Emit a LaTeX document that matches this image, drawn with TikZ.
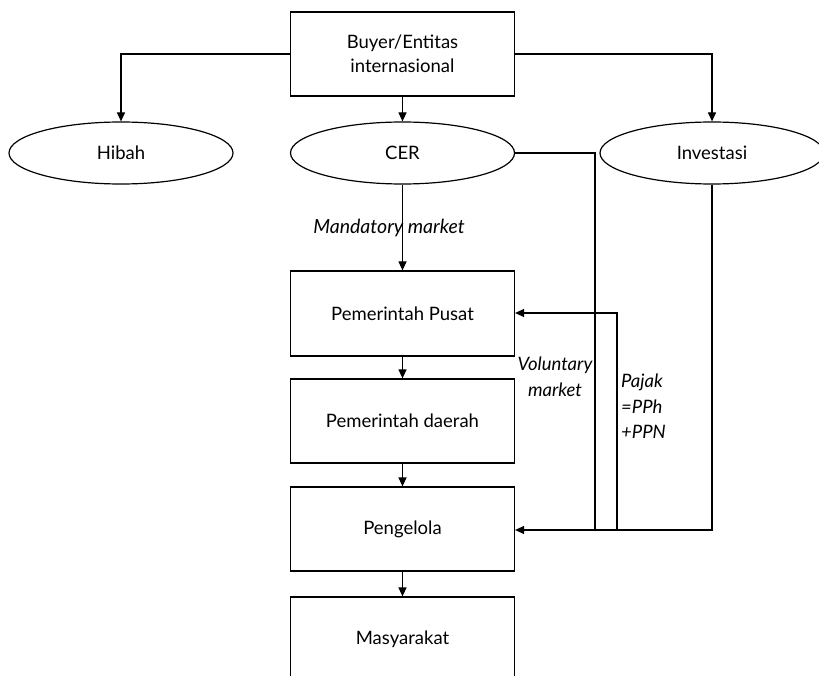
\documentclass[tikz,border=0pt]{standalone}
\usepackage{fontspec}
\setmainfont{Lato}
\usetikzlibrary{shapes.geometric,arrows.meta}
\begin{document}
\begin{tikzpicture}[x=1pt,y=-1pt,
  every node/.style={font=\fontsize{18.5}{24}\selectfont},
  box/.style={draw,line width=1.2pt,minimum width=224pt,minimum height=84pt,align=center,inner sep=0pt},
  oval/.style={draw,ellipse,line width=1.2pt,minimum width=224pt,minimum height=62pt,inner sep=0pt},
  link/.style={line width=1.2pt,-{Triangle[length=9pt,width=8pt]}},
  plain/.style={line width=1.2pt},
  lbl/.style={font=\fontsize{18.5}{25.5}\selectfont\itshape,align=left,inner sep=0pt}]
\useasboundingbox (0,0) rectangle (819,676);
\fill[white] (0,0) rectangle (819,676);
% top source
\node[box] (buyer) at (402.5,54) {Buyer/Entitas\\internasional};
% funding channels
\node[oval] (hibah) at (121,153) {Hibah};
\node[oval] (cer) at (402.5,153) {CER};
\node[oval] (inv) at (712,153) {Investasi};
% chain of recipients
\node[box,minimum height=85pt] (pusat) at (402.5,313.5) {Pemerintah Pusat};
\node[box] (daerah) at (402.5,421) {Pemerintah daerah};
\node[box] (kelola) at (402.5,529) {Pengelola};
\node[box] (masy) at (402.5,639) {Masyarakat};
% junction points for the routed lines
\coordinate (cerR) at (595,153);
\coordinate (cerD) at (595,530);
\coordinate (pjD) at (617,530);
\coordinate (pjU) at (617,313);
\coordinate (invD) at (712,530);
% buyer to channels
\draw[link] (buyer.west) -| (hibah.north);
\draw[link] (buyer.east) -| (inv.north);
\draw[link] (buyer.south) -- (cer.north);
% CER mandatory path
\draw[link] (cer.south) -- (pusat.north);
\node[lbl,font=\fontsize{19.5}{25.5}\selectfont\itshape] (mand) at (389,228) {Mandatory market};
% CER voluntary path and investment path
\draw[plain] (cer.east) -- (cerR) -- (cerD);
\draw[link] (inv.south) -- (invD) -- (kelola.east |- invD);
% tax return to central government
\draw[link] (pjD) -- (pjU) -- (pusat.east |- pjU);
\node[lbl,align=center] (vol) at (555,377) {Voluntary\\market};
\node[lbl,anchor=north west] (pajak) at (621,374) {Pajak\\=PPh\\+PPN};
% downward chain
\draw[link] (pusat.south) -- (daerah.north);
\draw[link] (daerah.south) -- (kelola.north);
\draw[link] (kelola.south) -- (masy.north);
\end{tikzpicture}
\end{document}
